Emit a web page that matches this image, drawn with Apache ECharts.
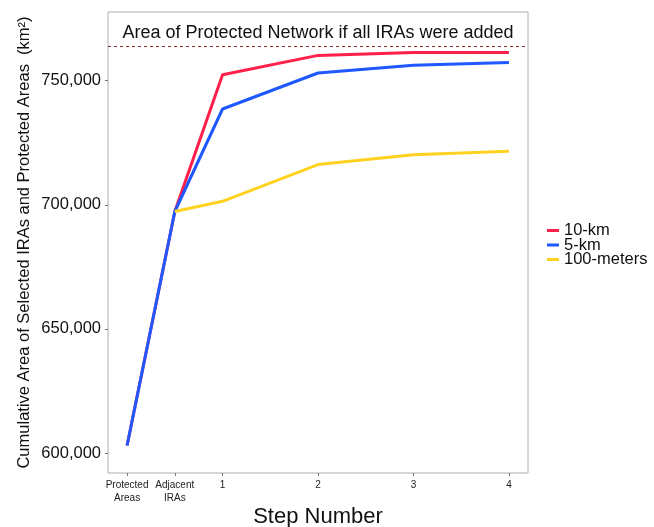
<!DOCTYPE html>
<html><head><meta charset="utf-8">
<script src="https://cdn.jsdelivr.net/npm/echarts@6/dist/echarts.min.js"></script>
<style>html,body{margin:0;padding:0;background:#fff}#c{width:654px;height:527px}</style>
</head><body><div id="c"></div>
<script>
const stepPositions = [0, 0.5, 1, 2, 3, 4];
const stepLabels = ["Protected\nAreas", "Adjacent\nIRAs", "1", "2", "3", "4"];
const seriesNames = ["10-km", "5-km", "100-meters"];
const km10 = [603000, 697300, 752400, 760200, 761400, 761400];
const km5 = [603000, 697300, 738600, 753100, 756200, 757300];
const m100 = [null, 697300, 701400, 716200, 720200, 721600];
const yTicks = [600000, 650000, 700000, 750000];
const allIRAsArea = 763800;
const refText = "Area of Protected Network if all IRAs were added";

function pairs(vals){ return vals.map((v,i)=> v==null ? null : [stepPositions[i], v]).filter(p=>p); }
const colors = ["#ff1f4b", "#2058ff", "#ffd21f"];
const chart = echarts.init(document.getElementById('c'));
const font = 'Liberation Sans, Arial, sans-serif';
chart.setOption({
  animation:false,
  backgroundColor:'#fff',
  textStyle:{fontFamily:font},
  grid:{left:108, right:126, top:12, bottom:54, show:true, borderColor:'#b0b0b0', borderWidth:1, outerBoundsMode:'none', containLabel:false},
  title:{text:refText, left:313, top:19, textAlign:'center', textStyle:{fontSize:18, fontWeight:'normal', color:'#111', fontFamily:font}},
  legend:{orient:'vertical', left:542, top:217, itemWidth:12, itemHeight:3, itemGap:-2.5, icon:'rect',
    textStyle:{fontSize:16.5, color:'#111', fontFamily:font}, data:seriesNames},
  xAxis:{type:'value', min:-0.2, max:4.2,
    name:'Step Number', nameLocation:'middle', nameGap:33, nameMoveOverlap:false, nameTextStyle:{fontSize:22, color:'#111', fontFamily:font},
    axisLine:{show:false, onZero:false}, splitLine:{show:false},
    axisTick:{show:true, customValues:stepPositions, length:3, lineStyle:{color:'#777'}},
    axisLabel:{customValues:stepPositions, fontSize:10, color:'#222', lineHeight:13.5, margin:5,
      formatter:(v)=>{const i=stepPositions.indexOf(v); return i>=0?stepLabels[i]:'';}}
  },
  yAxis:{type:'value', min:591940, max:777680,
    name:'Cumulative Area of Selected IRAs and Protected Areas  (km²)', nameLocation:'middle', nameGap:75, nameMoveOverlap:false,
    nameTextStyle:{fontSize:16.5, color:'#111', fontFamily:font},
    axisLine:{show:false, onZero:false}, splitLine:{show:false},
    axisTick:{show:true, customValues:yTicks, length:3, lineStyle:{color:'#777'}},
    axisLabel:{customValues:yTicks, fontSize:16.5, color:'#111', margin:7,
      formatter:(v)=>v.toLocaleString('en-US')}
  },
  series:[
    {name:seriesNames[0], type:'line', data:pairs(km10), showSymbol:false, symbol:'none', color:colors[0], lineStyle:{width:3},
      markLine:{silent:true, symbol:'none', label:{show:false}, lineStyle:{color:'#8a2a2a', type:[3,3], width:1}, data:[{yAxis:allIRAsArea}]}},
    {name:seriesNames[1], type:'line', data:pairs(km5), showSymbol:false, symbol:'none', color:colors[1], lineStyle:{width:3}},
    {name:seriesNames[2], type:'line', data:pairs(m100), showSymbol:false, symbol:'none', color:colors[2], lineStyle:{width:3}}
  ]
});
</script></body></html>
